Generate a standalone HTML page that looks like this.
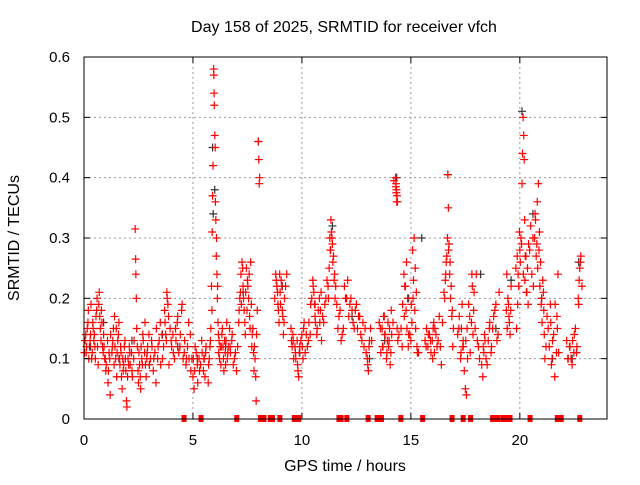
<!DOCTYPE html>
<html><head><meta charset="utf-8"><style>
body{margin:0;background:#fff}
svg text{font-family:"Liberation Sans",sans-serif;fill:#000}
</style></head><body>
<svg id="chart" width="640" height="480" viewBox="0 0 640 480" xmlns="http://www.w3.org/2000/svg">
<rect x="0" y="0" width="640" height="480" fill="#fff"/>
<g id="grid"></g>
<g id="blk"></g>
<g id="red"></g>
<g id="zero"></g>
<rect x="84" y="57" width="523" height="362" fill="none" stroke="#000" stroke-width="1"/>
<g id="ticks"></g>
<text x="344" y="32" font-size="16" text-anchor="middle">Day 158 of 2025, SRMTID for receiver vfch</text>
<text x="345" y="471" font-size="16" text-anchor="middle">GPS time / hours</text>
<text x="19" y="238" font-size="16" text-anchor="middle" transform="rotate(-90 19 238)">SRMTID / TECUs</text>
</svg>
<script>
const xTicks=[0,5,10,15,20];
const yTicks=[0,0.1,0.2,0.3,0.4,0.5,0.6];
const yTickLabels=["0","0.1","0.2","0.3","0.4","0.5","0.6"];
const redT=[0.05,0.1,0.15,0.2,0.25,0.3,0.35,0.4,0.45,0.5,0.55,0.6,0.65,0.7,0.75,0.8,0.85,0.9,0.95,1.0,
1.1,1.15,1.2,1.3,1.35,1.4,1.45,1.5,1.55,1.6,1.65,1.7,1.75,1.8,1.85,1.9,1.95,1.97,2.0,2.05,
2.1,2.2,2.3,2.35,2.37,2.38,2.4,2.42,2.45,2.5,2.55,2.6,2.65,2.7,2.8,2.85,2.9,3.0,3.1,3.2,
3.3,3.4,3.5,3.6,3.7,3.75,3.8,3.85,3.9,4.0,4.1,4.2,4.3,4.4,4.5,4.6,4.7,4.8,4.9,4.95,
5.0,5.05,5.1,5.2,5.3,5.4,5.5,5.55,5.6,
5.7,5.75,5.8,5.85,5.88,5.9,5.92,5.95,5.96,5.97,5.98,6.0,6.02,6.03,6.05,6.08,6.1,6.12,6.15,6.2,6.22,6.3,
6.35,6.4,6.45,6.5,6.55,6.6,6.7,6.8,6.9,7.0,
7.1,7.15,7.2,7.25,7.3,7.35,7.4,7.45,7.5,7.55,7.6,7.65,7.7,7.75,7.8,7.85,7.9,7.95,8.0,8.02,8.04,8.06,
8.8,8.85,8.9,8.95,9.0,9.05,9.1,9.15,9.2,9.3,
9.5,9.55,9.6,9.7,9.8,9.85,9.9,10.0,10.05,10.1,
10.3,10.4,10.5,10.55,10.6,10.7,10.8,10.85,10.9,11.0,11.1,11.2,
11.25,11.3,11.33,11.35,11.38,11.4,11.45,11.5,11.55,
11.7,11.8,11.9,12.0,12.1,12.2,12.3,12.4,12.5,12.6,12.7,12.8,12.9,13.0,13.05,13.1,
13.6,13.7,13.75,13.8,13.9,13.95,14.0,14.05,14.1,
14.3,14.32,14.34,14.36,14.38,
14.6,14.7,14.75,14.8,14.85,14.9,15.0,15.05,15.1,15.15,15.2,15.25,15.3,
15.7,15.8,15.9,16.0,16.05,16.1,16.2,16.3,16.4,
16.55,16.6,16.65,16.7,16.72,16.75,16.8,16.85,16.9,16.95,
17.2,17.3,17.35,17.4,17.5,17.55,17.6,17.7,17.8,17.85,17.9,18.0,18.1,
18.3,18.35,18.4,18.5,18.6,18.7,18.8,18.9,19.0,
19.4,19.45,19.5,19.55,19.6,
19.85,19.9,19.95,20.0,20.05,20.1,20.12,20.15,20.18,20.2,20.22,20.25,20.3,20.35,20.4,20.5,20.6,20.7,20.75,20.8,20.85,20.9,20.95,21.0,21.05,21.1,
21.2,21.3,21.4,21.45,21.5,21.6,21.7,21.75,
22.2,22.3,22.4,22.5,22.6,22.7,22.75,22.8,22.85];
const redV=[.13,.11,.15,.18,.12,.14,.10,.16,.13,.12,.17,.2,.09,.21,.15,.18,.12,.14,.1,.08,
.06,.11,.04,.12,.15,.17,.1,.07,.13,.16,.09,.11,.05,.08,.12,.1,.03,.02,.07,.09,
.11,.08,.13,.315,.265,.24,.2,.15,.12,.06,.09,.05,.1,.14,.16,.07,.11,.09,.13,.1,
.06,.12,.16,.1,.18,.14,.21,.19,.09,.13,.11,.15,.17,.12,.19,.11,.1,.16,.08,.1,
.07,.05,.12,.09,.08,.13,.1,.07,.12,
.06,.1,.13,.22,.31,.37,.42,.58,.57,.54,.52,.47,.45,.36,.33,.3,.24,.2,.16,.13,.1,.12,
.15,.1,.13,.09,.16,.11,.12,.14,.1,.08,
.16,.2,.24,.26,.22,.18,.14,.25,.23,.2,.17,.26,.12,.15,.08,.1,.03,.18,.46,.43,.39,.4,
.24,.22,.19,.16,.21,.23,.18,.14,.2,.24,
.15,.12,.13,.11,.09,.07,.12,.14,.1,.16,
.13,.19,.23,.21,.17,.15,.2,.18,.13,.16,.2,.22,
.25,.28,.33,.31,.3,.29,.27,.24,.22,
.17,.13,.15,.2,.23,.19,.18,.15,.19,.17,.14,.16,.15,.1,.08,.13,
.15,.12,.17,.14,.11,.16,.13,.09,.18,
.40,.39,.38,.37,.36,
.12,.17,.22,.26,.2,.14,.13,.16,.2,.3,.25,.21,.11,
.12,.14,.13,.1,.16,.15,.12,.17,.09,
.2,.24,.27,.405,.35,.29,.26,.22,.18,.15,
.15,.11,.19,.13,.05,.04,.1,.17,.24,.14,.21,.24,.12,
.07,.11,.13,.09,.15,.12,.17,.19,.14,
.24,.2,.17,.14,.22,
.15,.19,.22,.28,.3,.39,.44,.5,.47,.43,.33,.27,.21,.25,.29,.32,.3,.34,.27,.36,.39,.31,.26,.2,.23,.18,
.12,.15,.19,.09,.13,.07,.17,.24,
.1,.12,.09,.14,.11,.19,.25,.27,.22];
const red2T=[0.02,0.08,0.12,0.18,0.22,0.28,0.32,0.38,0.42,0.48,0.52,0.58,0.62,0.68,0.72,0.78,0.82,0.88,0.92,0.98,
1.02,1.08,1.12,1.18,1.22,1.28,1.32,1.38,1.42,1.48,1.52,1.58,1.62,1.68,1.72,1.78,1.82,1.88,1.92,2.02,2.08,2.12,2.18,2.22,2.28,
2.48,2.52,2.58,2.62,2.68,2.72,2.78,2.82,2.88,2.92,2.98,3.05,3.12,3.18,3.25,3.32,3.38,3.45,3.52,3.58,3.65,3.72,3.78,3.82,3.88,3.95,
4.02,4.08,4.15,4.22,4.28,4.35,4.42,4.48,4.55,4.62,4.68,4.75,4.82,4.88,5.02,5.08,5.15,5.22,5.28,5.35,5.42,5.48,5.52,5.58,
5.72,5.78,5.82,5.87,6.07,6.13,6.17,6.18,6.25,6.28,6.33,6.38,6.42,6.48,6.52,6.58,6.62,6.68,6.72,6.78,6.85,6.95,
7.05,7.12,7.18,7.22,7.28,7.32,7.38,7.42,7.48,7.52,7.58,7.62,7.68,7.72,7.78,7.82,7.88,7.92,
8.75,8.82,8.88,8.92,8.98,9.02,9.08,9.12,9.18,9.25,9.52,9.58,9.62,9.68,9.72,9.78,9.82,9.88,9.95,10.02,10.08,10.15,10.2,
10.25,10.32,10.38,10.45,10.52,10.58,10.62,10.68,10.75,10.82,10.88,10.95,11.05,11.15,11.22,11.28,11.32,11.42,11.48,11.52,11.6,11.65,
11.75,11.85,11.95,12.05,12.15,12.25,12.35,12.45,12.55,12.65,12.75,12.85,12.95,13.02,13.08,13.15,13.2,
13.55,13.62,13.68,13.72,13.78,13.82,13.88,13.92,13.98,14.02,14.08,14.12,14.18,14.22,14.31,14.33,14.35,14.37,14.4,14.45,
14.55,14.62,14.68,14.72,14.78,14.82,14.88,14.95,15.02,15.08,15.12,15.18,15.22,15.28,15.35,
15.65,15.72,15.78,15.85,15.92,15.98,16.02,16.08,16.15,16.25,16.35,16.45,16.52,16.58,16.62,16.68,16.73,16.78,16.82,16.88,16.92,
17.15,17.22,17.28,17.32,17.38,17.45,17.52,17.58,17.65,17.72,17.78,17.82,17.88,17.95,18.05,18.15,18.25,
18.32,18.38,18.45,18.55,18.62,18.68,18.75,18.85,18.95,19.05,19.38,19.42,19.48,19.52,19.58,
19.82,19.88,19.92,19.98,20.02,20.08,20.16,20.23,20.28,20.32,20.38,20.45,20.55,20.62,20.68,20.72,20.78,20.82,20.88,20.92,20.98,21.02,21.08,21.12,
21.15,21.25,21.35,21.42,21.48,21.55,21.62,21.68,21.72,21.78,
22.15,22.22,22.28,22.35,22.42,22.48,22.55,22.62,22.68,22.72,22.78,22.82];
const red2V=[.11,.14,.12,.16,.1,.13,.19,.11,.15,.14,.1,.18,.12,.19,.17,.13,.16,.11,.12,.1,
.09,.13,.08,.1,.14,.11,.13,.09,.12,.15,.11,.14,.1,.12,.07,.1,.09,.13,.08,.1,.12,.09,.11,.07,.1,
.08,.11,.07,.12,.09,.13,.11,.09,.1,.12,.14,.1,.12,.08,.11,.15,.1,.13,.09,.14,.12,.16,.13,.2,.17,.15,
.12,.14,.1,.13,.16,.11,.14,.18,.1,.13,.09,.12,.1,.14,.1,.08,.11,.06,.1,.09,.11,.08,.1,.11,
.09,.12,.15,.18,.27,.22,.14,.11,.12,.09,.14,.12,.08,.11,.13,.1,.12,.15,.11,.13,.09,.11,
.12,.18,.21,.19,.25,.2,.16,.21,.18,.22,.24,.15,.19,.14,.11,.12,.07,.14,
.2,.23,.21,.18,.24,.19,.22,.17,.16,.22,.13,.14,.1,.12,.1,.13,.08,.11,.13,.12,.15,.11,.14,
.12,.16,.14,.2,.22,.19,.16,.14,.18,.16,.21,.17,.19,.23,.2,.3,.28,.26,.23,.2,.19,
.15,.18,.14,.22,.2,.17,.2,.16,.18,.15,.17,.13,.12,.11,.09,.12,.15,
.13,.16,.11,.15,.12,.17,.14,.1,.13,.12,.15,.11,.14,.16,.395,.385,.375,.36,.15,.13,
.14,.15,.19,.24,.22,.18,.15,.12,.14,.19,.28,.23,.18,.15,.12,
.11,.13,.15,.12,.14,.11,.13,.15,.11,.14,.13,.12,.16,.21,.23,.26,.3,.28,.24,.2,.17,
.12,.14,.17,.1,.15,.12,.08,.13,.15,.19,.11,.16,.22,.18,.15,.13,.1,
.09,.12,.14,.1,.13,.16,.11,.15,.18,.13,.21,.18,.15,.19,.16,
.18,.25,.27,.24,.31,.26,.29,.24,.23,.27,.21,.19,.28,.24,.22,.3,.33,.29,.25,.28,.22,.19,.16,.21,
.14,.1,.17,.12,.16,.1,.14,.19,.11,.15,
.11,.13,.1,.12,.1,.13,.11,.15,.12,.2,.23,.26];
const blkT=[0.3,0.9,1.6,2.2,3.0,3.6,4.3,5.2,5.9,5.93,6.0,6.5,7.3,8.0,9.1,9.9,10.6,11.4,12.3,13.1,13.8,14.35,14.9,15.5,16.7,17.4,18.2,18.9,19.6,20.1,20.6,21.0,21.5,22.4,22.7];
const blkV=[.12,.16,.1,.13,.09,.14,.12,.1,.45,.34,.38,.12,.21,.46,.22,.11,.19,.32,.17,.1,.13,.4,.2,.3,.405,.12,.24,.15,.23,.51,.34,.2,.1,.1,.26];
const zeroT=[4.59,5.37,7.01,8.1,8.18,8.26,8.55,8.65,8.99,9.65,9.75,9.85,11.7,11.8,12.06,13.04,13.45,13.55,13.65,14.54,15.54,16.89,17.4,17.74,18.75,18.82,18.9,19.0,19.24,19.45,19.55,20.47,21.72,21.81,21.9,22.75];

const X0=84,X1=607,Y0=419,Y1=57,XMAX=24,YMAX=0.6;
function xs(t){return X0+(X1-X0)*t/XMAX;}
function ys(v){return Y0-(Y0-Y1)*v/YMAX;}
const NS="http://www.w3.org/2000/svg";
function mk(tag,attrs,parent){const e=document.createElementNS(NS,tag);for(const k in attrs)e.setAttribute(k,attrs[k]);parent.appendChild(e);return e;}
const grid=document.getElementById('grid'),ticks=document.getElementById('ticks');
xTicks.forEach((t,i)=>{
  const x=xs(t);
  if(t>0){const g=mk('line',{x1:x,x2:x,y1:Y1,y2:Y0,stroke:'#999','stroke-dasharray':'2,3'},grid);
  
  }
  const a=mk('line',{x1:x,x2:x,y1:Y0,y2:Y0-6,stroke:'#000'},ticks);
  
  
  const b=mk('line',{x1:x,x2:x,y1:Y1,y2:Y1+6,stroke:'#000'},ticks);
  
  
  const tx=mk('text',{x:x,y:445,'font-size':15,'text-anchor':'middle'},ticks);tx.textContent=String(t);
  
  
});
yTicks.forEach((v,i)=>{
  const y=ys(v);
  if(v>0){const g=mk('line',{x1:X0,x2:X1,y1:y,y2:y,stroke:'#999','stroke-dasharray':'2,3'},grid);
  
  }
  const a=mk('line',{x1:X0,x2:X0+6,y1:y,y2:y,stroke:'#000'},ticks);
  
  
  const b=mk('line',{x1:X1,x2:X1-6,y1:y,y2:y,stroke:'#000'},ticks);
  
  
  const tx=mk('text',{x:70,y:y+5,'font-size':15,'text-anchor':'end'},ticks);tx.textContent=yTickLabels[i];
  
  
});
function plus(g,t,v,col){
  const x=xs(t),y=ys(v);
  return mk('path',{d:`M${x-4},${y}H${x+4}M${x},${y-4}V${y+4}`,stroke:col,'stroke-width':1.2,fill:'none'},g);
}
const blk=document.getElementById('blk'),red=document.getElementById('red'),zero=document.getElementById('zero');
blkT.forEach((t,i)=>{const p=plus(blk,t,blkV[i],'#333');
  
  });
redT.forEach((t,i)=>{const p=plus(red,t,redV[i],'#f00');
  
  });
red2T.forEach((t,i)=>{const p=plus(red,t,red2V[i],'#f00');
  
  });
zeroT.forEach(t=>{const r=mk('rect',{x:xs(t)-2.5,y:Y0-4,width:5,height:7,fill:'#f00'},zero);
  
  });
</script>
</body></html>
